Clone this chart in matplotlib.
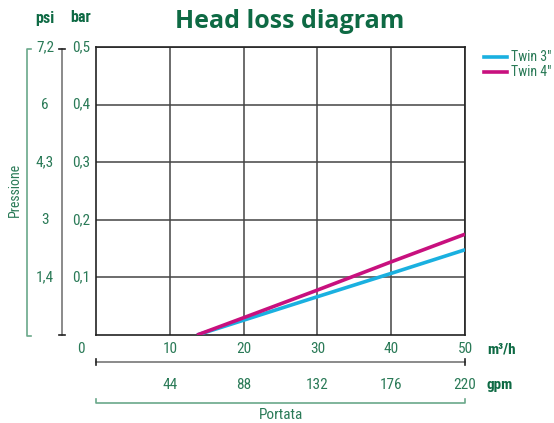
import matplotlib.pyplot as plt
from matplotlib.lines import Line2D
from matplotlib.transforms import blended_transform_factory

# data
flow_m3h = [13.7, 20, 30, 40, 50]
twin3 = [0.0, 0.0257, 0.0665, 0.107, 0.148]
twin4 = [0.0, 0.030, 0.078, 0.127, 0.175]

bar_ticks = [0.1, 0.2, 0.3, 0.4, 0.5]
bar_labels = ['0,1', '0,2', '0,3', '0,4', '0,5']
psi_labels = ['1,4', '3', '4,3', '6', '7,2']
x_ticks = [10, 20, 30, 40, 50]
gpm_labels = ['44', '88', '132', '176', '220']

green = '#2a7a57'
dark_green = '#0e6a44'
light_green = '#6aa88a'
cyan = '#1ab0e0'
magenta = '#c8107e'
narrow = ['Roboto Condensed', 'Open Sans Condensed', 'Liberation Sans Narrow', 'Roboto', 'DejaVu Sans']
fs = 11

W, H = 554, 423
fig = plt.figure(figsize=(W / 100, H / 100), dpi=100)

def fx(px):
    return px / W

def fy(py):
    return 1 - py / H

ax = fig.add_axes([fx(96), fy(335), fx(465) - fx(96), fy(47) - fy(335)])
ax.set_xlim(0, 50)
ax.set_ylim(0, 0.5)
for v in x_ticks:
    ax.axvline(v, color='#444444', lw=1.1, zorder=1)
for v in bar_ticks:
    ax.axhline(v, color='#444444', lw=1.1, zorder=1)
for s in ax.spines.values():
    s.set_color('#222222')
    s.set_linewidth(1.2)
ax.set_xticks([])
ax.set_yticks([])

ax.plot(flow_m3h, twin3, color=cyan, lw=2.6, solid_capstyle='butt', zorder=3)
ax.plot(flow_m3h, twin4, color=magenta, lw=2.6, solid_capstyle='butt', zorder=3)

# title
fig.text(fx(290), fy(21), 'Head loss diagram', ha='center', va='center',
         fontsize=18, fontweight='bold', color=dark_green, family=['Open Sans', 'DejaVu Sans'])

# y labels: bar and psi
ty = blended_transform_factory(fig.transFigure, ax.transData)
for v, b, p in zip(bar_ticks, bar_labels, psi_labels):
    fig.text(fx(81), v, b, transform=ty, ha='center', va='center',
             fontsize=fs, color=green, family=narrow)
    fig.text(fx(45), v, p, transform=ty, ha='center', va='center',
             fontsize=fs, color=green, family=narrow)
fig.text(fx(45), fy(18), 'psi', ha='center', va='center', fontsize=11.5,
         fontweight='bold', color=dark_green, family=narrow)
fig.text(fx(81), fy(18), 'bar', ha='center', va='center', fontsize=11.5,
         fontweight='bold', color=dark_green, family=narrow)
fig.text(fx(15), fy(190), 'Pressione', ha='center', va='center', rotation=90,
         fontsize=10, color=green, family=narrow)

# bar axis line and psi bracket
fig.add_artist(Line2D([fx(62), fx(62)], [fy(49), fy(335)], color='#777777', lw=1.2))
fig.add_artist(Line2D([fx(59), fx(65)], [fy(49), fy(49)], color='#222222', lw=1.2))
fig.add_artist(Line2D([fx(59), fx(65)], [fy(335), fy(335)], color='#222222', lw=1.2))
fig.add_artist(Line2D([fx(31), fx(27), fx(27), fx(31)], [fy(49), fy(49), fy(336), fy(336)],
                      color=light_green, lw=1.2))

# x labels: m3/h and gpm
tx = blended_transform_factory(ax.transData, fig.transFigure)
fig.text(fx(81), fy(349), '0', ha='center', va='center', fontsize=fs, color=green, family=narrow)
for v, g in zip(x_ticks, gpm_labels):
    fig.text(v, fy(349), str(v), transform=tx, ha='center', va='center',
             fontsize=fs, color=green, family=narrow)
    fig.text(v, fy(385), g, transform=tx, ha='center', va='center',
             fontsize=fs, color=green, family=narrow)
fig.text(fx(487), fy(349), 'm³/h', ha='left', va='center', fontsize=fs,
         fontweight='bold', color=dark_green, family=narrow)
fig.text(fx(487), fy(385), 'gpm', ha='left', va='center', fontsize=fs,
         fontweight='bold', color=dark_green, family=narrow)

fig.add_artist(Line2D([fx(96), fx(465)], [fy(362), fy(362)], color='#777777', lw=1.2))
fig.add_artist(Line2D([fx(96), fx(96)], [fy(359), fy(365)], color='#222222', lw=1.2))
fig.add_artist(Line2D([fx(465), fx(465)], [fy(359), fy(365)], color='#222222', lw=1.2))
fig.add_artist(Line2D([fx(96), fx(96), fx(465), fx(465)], [fy(399), fy(403), fy(403), fy(399)],
                      color=light_green, lw=1.2))
fig.text(fx(281), fy(415), 'Portata', ha='center', va='center', fontsize=fs,
         color=green, family=narrow)

# legend
for py, col, lab in [(57, cyan, 'Twin 3"'), (72, magenta, 'Twin 4"')]:
    fig.add_artist(Line2D([fx(484), fx(507)], [fy(py), fy(py)], color=col, lw=2.6))
    fig.text(fx(511), fy(py), lab, ha='left', va='center', fontsize=10,
             color=green, family=narrow)

fig.savefig('out.png', dpi=100)
